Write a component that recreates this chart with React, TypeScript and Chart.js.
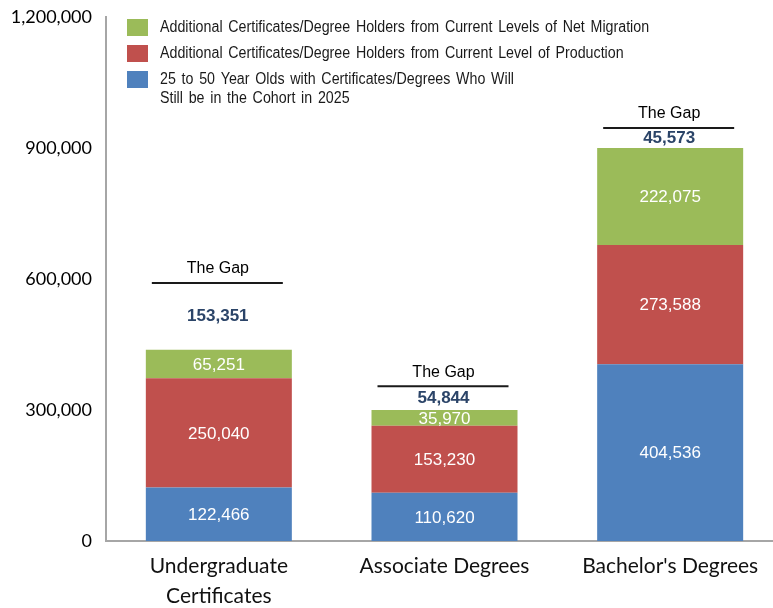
import React, { useEffect, useRef } from 'react';
import { Chart, registerables } from 'chart.js';

Chart.register(...registerables);

const categories: (string | string[])[] = [['Undergraduate', 'Certificates'], 'Associate Degrees', "Bachelor's Degrees"];
const cohortValues = [122466, 110620, 404536];
const productionValues = [250040, 153230, 273588];
const migrationValues = [65251, 35970, 222075];
const gapValues = [153351, 54844, 45573];
const yTickStep = 300000;
const yMax = 1200000;
const gapTitle = 'The Gap';
const legendLabels: string[][] = [
  ['Additional Certificates/Degree Holders from Current Levels of Net Migration'],
  ['Additional Certificates/Degree Holders from Current Level of Production'],
  ['25 to 50 Year Olds with Certificates/Degrees Who Will', 'Still be in the Cohort in 2025'],
];

const BLUE = '#4F81BD';
const RED = '#C0504D';
const GREEN = '#9BBB59';
const legendColors = [GREEN, RED, BLUE];

const fmt = (v: number) => Number(v).toLocaleString('en-US');

const overlayPlugin = {
  id: 'overlay',
  afterDatasetsDraw(chart: any) {
    const ctx = chart.ctx as CanvasRenderingContext2D;
    ctx.save();
    ctx.textAlign = 'center';
    ctx.textBaseline = 'middle';
    for (let d = 0; d < 3; d++) {
      const meta = chart.getDatasetMeta(d);
      meta.data.forEach((el: any, i: number) => {
        const { x, y, base } = el.getProps(['x', 'y', 'base'], true);
        ctx.fillStyle = '#FFFFFF';
        ctx.font = '17px "Liberation Sans", Arial, sans-serif';
        ctx.fillText(fmt(chart.data.datasets[d].data[i]), x, (y + base) / 2 + 1);
      });
    }
    const gm = chart.getDatasetMeta(3);
    gm.data.forEach((el: any, i: number) => {
      const { x, y, base } = el.getProps(['x', 'y', 'base'], true);
      ctx.font = 'bold 17px "Liberation Sans", Arial, sans-serif';
      ctx.fillStyle = '#2B4468';
      ctx.fillText(fmt(gapValues[i]), x - 1, (y + base) / 2);
      ctx.strokeStyle = '#1A1A1A';
      ctx.lineWidth = 2;
      ctx.beginPath();
      ctx.moveTo(x - 67, y);
      ctx.lineTo(x + 64, y);
      ctx.stroke();
      ctx.font = '16px "Liberation Sans", Arial, sans-serif';
      ctx.fillStyle = '#000000';
      ctx.fillText(gapTitle, x - 1, y - 14);
    });
    ctx.restore();
  },
  afterDraw(chart: any) {
    const ctx = chart.ctx as CanvasRenderingContext2D;
    const { left, top } = chart.chartArea;
    ctx.save();
    const boxX = left + 21;
    const textX = left + 54;
    const rowH = 26;
    legendLabels.forEach((lines, r) => {
      const rowTop = top + 2 + r * rowH;
      ctx.fillStyle = legendColors[r];
      ctx.fillRect(boxX, rowTop, 21, 17);
      ctx.fillStyle = '#1A1A1A';
      ctx.font = '16px "Liberation Sans", Arial, sans-serif';
      (ctx as any).wordSpacing = '2px';
      ctx.textAlign = 'left';
      ctx.textBaseline = 'middle';
      lines.forEach((line, k) => {
        const ty = rowTop + 8.5 + k * 19;
        ctx.save();
        ctx.translate(textX, ty);
        ctx.scale(0.89, 1);
        ctx.fillText(line, 0, 0);
        ctx.restore();
      });
    });
    ctx.restore();
  },
};

export default function App() {
  const ref = useRef<HTMLCanvasElement | null>(null);
  useEffect(() => {
    document.documentElement.style.overflow = 'hidden';
    document.body.style.overflow = 'hidden';
    const canvas = ref.current;
    if (!canvas) return;
    const chart = new Chart(canvas, {
      type: 'bar',
      data: {
        labels: categories as any,
        datasets: [
          { label: legendLabels[2].join(' '), data: cohortValues, backgroundColor: BLUE, categoryPercentage: 1, barPercentage: 0.647 },
          { label: legendLabels[1][0], data: productionValues, backgroundColor: RED, categoryPercentage: 1, barPercentage: 0.647 },
          { label: legendLabels[0][0], data: migrationValues, backgroundColor: GREEN, categoryPercentage: 1, barPercentage: 0.647 },
          { label: gapTitle, data: gapValues, backgroundColor: 'rgba(0,0,0,0)', categoryPercentage: 1, barPercentage: 0.647 },
        ],
      },
      options: {
        responsive: false,
        animation: false,
        events: [],
        layout: { padding: { left: 0, right: 0, top: 17, bottom: 0 } },
        plugins: { legend: { display: false }, tooltip: { enabled: false } },
        scales: {
          x: {
            stacked: true,
            grid: { display: false, drawTicks: false },
            border: { display: true, color: '#A6A6A6', width: 2 },
            ticks: {
              color: '#111111',
              font: { family: 'Lato', size: 21, lineHeight: 1.45 },
              padding: 10,
              maxRotation: 0,
              autoSkip: false,
            },
            afterFit: (s: any) => { s.height = 67; s.paddingLeft = 0; s.paddingRight = 0; },
          },
          y: {
            stacked: true,
            min: 0,
            max: yMax,
            grid: { display: false, drawTicks: false },
            border: { display: true, color: '#A6A6A6', width: 2 },
            ticks: {
              stepSize: yTickStep,
              color: '#000000',
              font: { family: 'Lato', size: 18 },
              padding: 14,
              callback: (v: any) => fmt(v),
            },
            afterFit: (s: any) => { s.width = 106; s.paddingTop = 0; s.paddingBottom = 0; },
          },
        },
      },
      plugins: [overlayPlugin],
    });
    return () => chart.destroy();
  }, []);
  return (
    <div style={{ position: 'fixed', left: 0, top: 0, width: 783, height: 608, background: '#fff' }}>
      <canvas ref={ref} width={783} height={608} style={{ display: 'block' }} />
    </div>
  );
}
